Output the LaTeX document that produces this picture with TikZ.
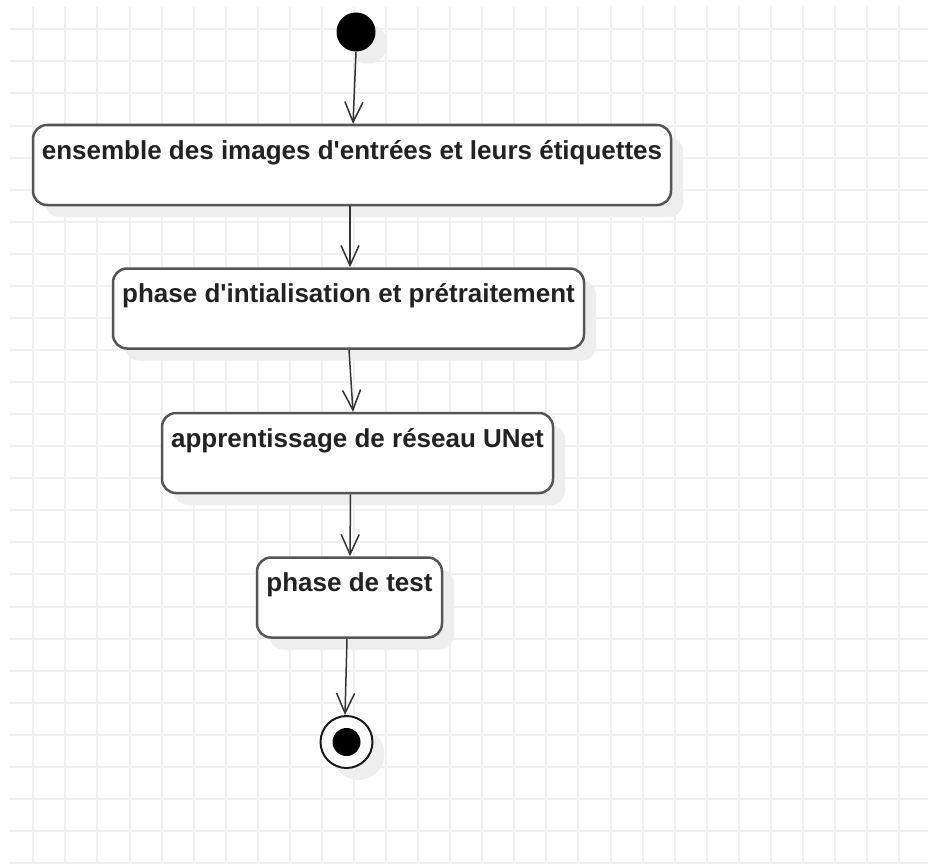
\documentclass[tikz,border=0pt]{standalone}
\usepackage{fontspec}
\setmainfont{Liberation Sans}[Ligatures=TeXOff]
\usetikzlibrary{arrows.meta,shadows}
\definecolor{gridline}{HTML}{F0F0F0}
\definecolor{shadowgray}{HTML}{EEEEEE}
\definecolor{boxline}{HTML}{555555}
\definecolor{flowline}{HTML}{333333}
\definecolor{labeltext}{HTML}{222222}

\begin{document}
\begin{tikzpicture}[x=1pt,y=-1pt,
  activity/.style={draw=boxline, line width=2.5pt, fill=white, rounded corners=14pt,
    inner xsep=0pt, inner ysep=0pt, text height=34pt, text depth=46pt,
    font=\fontsize{26}{30}\selectfont\bfseries, text=labeltext,
    drop shadow={shadow xshift=12pt, shadow yshift=-12pt, fill=shadowgray, opacity=1}},
  startdot/.style={circle, fill=black, minimum size=39pt, inner sep=0pt,
    drop shadow={shadow xshift=12pt, shadow yshift=-12pt, fill=shadowgray, opacity=1}},
  endring/.style={circle, draw=black!90, line width=2pt, fill=white, minimum size=52pt, inner sep=0pt,
    drop shadow={shadow xshift=12pt, shadow yshift=-12pt, fill=shadowgray, opacity=1}},
  enddot/.style={circle, fill=black, minimum size=28pt, inner sep=0pt},
  flow/.style={draw=flowline, line width=1.5pt, -{Straight Barb[length=20pt,width=18pt,line width=1.5pt]}},
  gridrule/.style={draw=gridline, line width=2pt}]

\useasboundingbox (0,0) rectangle (928,864);
\fill[white] (0,0) rectangle (928,864);

% background grid
\foreach \k in {0,...,26} \draw[gridrule] (9,29.3+32.07*\k) -- (928,29.3+32.07*\k);
\foreach \k in {0,...,27} \draw[gridrule] (33.3+32.07*\k,7) -- (33.3+32.07*\k,864);

% activities
\node[startdot] (start) at (356,32) {};
\node[activity, minimum width=638pt] (ensemble) at (352,165) {ensemble des images d'entrées et leurs étiquettes};
\node[activity, minimum width=471pt] (pretraitement) at (348.5,308.5) {phase d'intialisation et prétraitement};
\node[activity, minimum width=391pt] (unet) at (357.5,453) {apprentissage de réseau UNet};
\node[activity, minimum width=185pt] (test) at (349.5,597.5) {phase de test};
\node[endring] (fin) at (346.5,742) {};
\node[enddot] (findot) at (fin.center) {};

% control flow
\draw[flow] (start.south) -- ([xshift=1pt]ensemble.north);
\draw[flow] ([xshift=-2pt]ensemble.south) -- ([xshift=1.5pt]pretraitement.north);
\draw[flow] ([xshift=0.5pt]pretraitement.south) -- ([xshift=-4.5pt]unet.north);
\draw[flow] ([xshift=-7pt]unet.south) -- ([xshift=0.5pt]test.north);
\draw[flow] ([xshift=-2.5pt]test.south) -- ([xshift=-1.5pt]fin.north);
\end{tikzpicture}
\end{document}
